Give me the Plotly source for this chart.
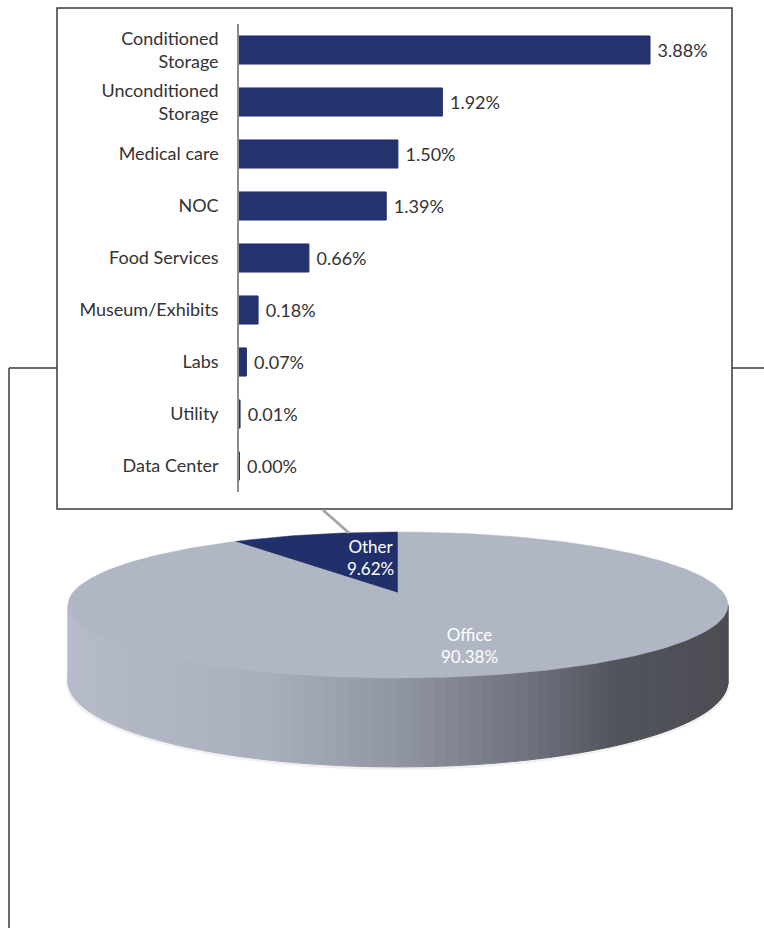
import numpy as np
import plotly.graph_objects as go

# ---------------- data ----------------
categories = ["Conditioned<br>Storage", "Unconditioned<br>Storage", "Medical care", "NOC",
              "Food Services", "Museum/Exhibits", "Labs", "Utility", "Data Center"]
shares = [3.88, 1.92, 1.50, 1.39, 0.66, 0.18, 0.07, 0.01, 0.004]
pie_labels = ["Other", "Office"]
pie_values = [9.62, 90.38]

# ---------------- layout constants ----------------
W, H = 764, 928
FONT = "Lato"
BAR_COLOR = "#24336e"
PIE_COLORS = ["#21306b", "#b1b6c4"]


def px(x):
    return x / W


def py(y):
    return 1 - y / H


fig = go.Figure()

# ---------------- bar chart (inset) ----------------
fig.add_trace(go.Bar(
    y=categories, x=shares, orientation="h",
    marker=dict(color=BAR_COLOR, line=dict(color=BAR_COLOR, width=1)),
    texttemplate="\u00a0%{x:.2f}%", textposition="outside",
    textfont=dict(family=FONT, size=18, color="#333333"),
    cliponaxis=False, xaxis="x", yaxis="y", hoverinfo="skip", showlegend=False,
))

# ---------------- 3-D pie (perspective ellipse) ----------------
CX, CY, B, A, K, D = 398, 593, 325.5, 71.0, 0.164, 74.4


def proj(u, v, drop=0.0):
    s = 1.0 / (1.0 - K * v)
    return CX + B * u * s, CY + A * v * s + drop * s


def lerp_color(p):
    stops = [(0.0, (182, 187, 201)), (0.3, (170, 175, 189)), (0.5, (145, 150, 163)),
             (0.7, (110, 114, 125)), (0.83, (82, 84, 92)), (1.0, (76, 77, 83))]
    for (p0, c0), (p1, c1) in zip(stops[:-1], stops[1:]):
        if p <= p1:
            f = (p - p0) / (p1 - p0)
            c = [int(round(a + (b - a) * f)) for a, b in zip(c0, c1)]
            return "rgb(%d,%d,%d)" % tuple(c)
    return "rgb(%d,%d,%d)" % stops[-1][1]


# soft shadow under the pie
ts = np.linspace(0, 2 * np.pi, 241)
sx, sy = proj(np.cos(ts) * 1.006, np.sin(ts) * 1.006, D + 2)
fig.add_trace(go.Scatter(x=sx, y=sy, fill="toself", fillcolor="rgba(0,0,0,0.06)",
                         line=dict(width=0), mode="lines", xaxis="x2", yaxis="y2",
                         hoverinfo="skip", showlegend=False))

# side wall with horizontal gradient
t1, t2 = np.arcsin(K), np.pi - np.arcsin(K)
edges = np.linspace(t2, t1, 91)
xl, _ = proj(np.cos(t2), np.sin(t2))
xr, _ = proj(np.cos(t1), np.sin(t1))
for ta, tb in zip(edges[:-1], edges[1:]):
    seg = np.linspace(ta, tb, 4)
    ux, vy = np.cos(seg), np.sin(seg)
    tx, tyy = proj(ux, vy)
    bx, byy = proj(ux[::-1], vy[::-1], D)
    xs = np.concatenate([tx, bx, tx[:1]])
    ys = np.concatenate([tyy, byy, tyy[:1]])
    p = (np.mean(tx) - xl) / (xr - xl)
    col = lerp_color(min(max(p, 0), 1))
    fig.add_trace(go.Scatter(x=xs, y=ys, fill="toself", fillcolor=col,
                             line=dict(width=1, color=col), mode="lines",
                             xaxis="x2", yaxis="y2", hoverinfo="skip", showlegend=False))

# top surface slices
total = sum(pie_values)
cum = 0.0
for lab, val, col in zip(pie_labels, pie_values, PIE_COLORS):
    a0 = -np.pi / 2 - 2 * np.pi * cum / total
    a1 = -np.pi / 2 - 2 * np.pi * (cum + val) / total
    n = max(4, int(abs(a1 - a0) / (2 * np.pi) * 360))
    tt = np.linspace(a0, a1, n)
    ex, ey = proj(np.cos(tt), np.sin(tt))
    xs = np.concatenate([[CX], ex, [CX]])
    ys = np.concatenate([[CY], ey, [CY]])
    fig.add_trace(go.Scatter(x=xs, y=ys, fill="toself", fillcolor=col,
                             line=dict(width=0.5, color=col), mode="lines",
                             xaxis="x2", yaxis="y2", hoverinfo="skip", showlegend=False))
    cum += val

# pie labels
label_pos = [(370, 557), (469, 645)]
annotations = []
for lab, val, (lx, ly) in zip(pie_labels, pie_values, label_pos):
    annotations.append(dict(x=lx, y=ly, xref="x2", yref="y2",
                            text="%s<br>%.2f%%" % (lab, val), showarrow=False,
                            font=dict(family=FONT, size=17, color="white"), align="center"))

# ---------------- shapes: frames & connector ----------------
LINE = "#3a3a3a"
shapes = [
    dict(type="line", xref="paper", yref="paper", x0=px(9), x1=px(9), y0=py(368), y1=py(930),
         line=dict(color=LINE, width=1.5), layer="below"),
    dict(type="line", xref="paper", yref="paper", x0=px(9), x1=px(58), y0=py(368), y1=py(368),
         line=dict(color=LINE, width=1.5), layer="below"),
    dict(type="line", xref="paper", yref="paper", x0=px(731), x1=px(766), y0=py(368), y1=py(368),
         line=dict(color=LINE, width=1.5), layer="below"),
    dict(type="rect", xref="paper", yref="paper", x0=px(57), x1=px(732), y0=py(509), y1=py(8),
         fillcolor="white", line=dict(color=LINE, width=1.5), layer="below"),
    dict(type="line", xref="paper", yref="paper", x0=px(323), x1=px(349), y0=py(510), y1=py(533),
         line=dict(color="#a6a6a6", width=3), layer="above"),
]

x_max = 3.88 * (722 - 239) / (650 - 239)

fig.update_layout(
    width=W, height=H, autosize=False,
    margin=dict(l=0, r=0, t=0, b=0),
    paper_bgcolor="white", plot_bgcolor="rgba(0,0,0,0)",
    template="none",
    bargap=0.46,
    font=dict(family=FONT, size=18, color="#333333"),
    xaxis=dict(domain=[px(239), px(722)], range=[0, x_max], visible=False, fixedrange=True,
               anchor="y"),
    yaxis=dict(domain=[py(492), py(24)], autorange="reversed", anchor="x",
               showline=True, linecolor="#8c8c8c", linewidth=1.5, showgrid=False,
               ticks="", ticklabelstandoff=15, zeroline=False,
               tickfont=dict(family=FONT, size=18, color="#333333"), fixedrange=True),
    xaxis2=dict(domain=[0, 1], range=[0, W], visible=False, anchor="y2", fixedrange=True),
    yaxis2=dict(domain=[0, 1], range=[H, 0], visible=False, anchor="x2", fixedrange=True),
    shapes=shapes,
    annotations=annotations,
    showlegend=False,
)

fig.write_html("out.html")
